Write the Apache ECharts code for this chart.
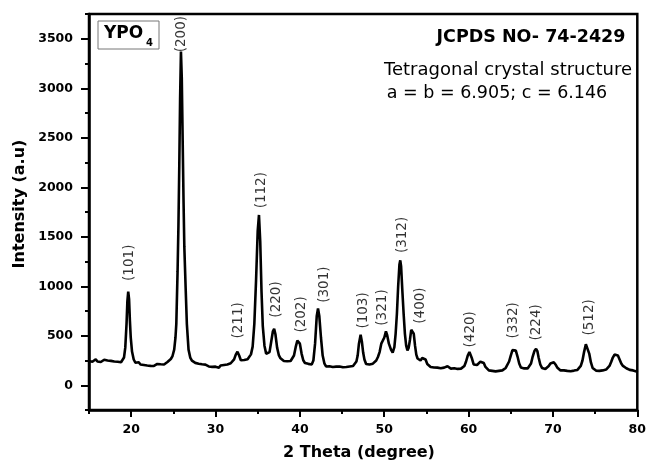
<!DOCTYPE html>
<html>
<head>
<meta charset="utf-8">
<script src="https://cdn.jsdelivr.net/npm/echarts@6/dist/echarts.min.js"></script>
<style>
  html, body { margin: 0; padding: 0; background: #fff; }
  #chart { width: 649px; height: 462px; }
</style>
</head>
<body>
<div id="chart"></div>
<script>
// XRD pattern
const twoTheta = [
  15.0, 15.2, 15.4, 15.6, 15.8, 16.0, 16.2, 16.4, 16.6, 16.8, 17.0, 17.2, 17.4, 17.6, 17.8, 18.0, 18.2, 18.4, 18.6, 18.8,
  19.0, 19.15, 19.3, 19.45, 19.55, 19.65, 19.75, 19.85, 19.95, 20.1, 20.3, 20.5, 20.7, 20.9, 21.1, 21.3, 21.5, 21.7, 21.9,
  22.1, 22.3, 22.5, 22.7, 22.9, 23.1, 23.3, 23.5, 23.7, 23.9, 24.1, 24.3, 24.5, 24.7, 24.9, 25.1, 25.25, 25.35, 25.5, 25.6,
  25.7, 25.8, 25.9, 26.0, 26.1, 26.2, 26.3, 26.45, 26.6, 26.8, 27.0, 27.2, 27.4, 27.6, 27.8, 28.0, 28.2, 28.4, 28.6, 28.8,
  29.0, 29.2, 29.4, 29.6, 29.8, 30.0, 30.2, 30.4, 30.6, 30.8, 31.0, 31.2, 31.4, 31.6, 31.8, 32.0, 32.2, 32.4, 32.6, 32.8,
  33.0, 33.2, 33.4, 33.6, 33.8, 34.0, 34.2, 34.4, 34.6, 34.8, 35.0, 35.15, 35.3, 35.45, 35.6, 35.8, 36.0, 36.2, 36.4, 36.6,
  36.8, 36.95, 37.1, 37.3, 37.5, 37.7, 37.9, 38.1, 38.3, 38.5, 38.7, 38.9, 39.1, 39.3, 39.5, 39.7, 39.85, 40.0, 40.2, 40.4,
  40.6, 40.8, 41.0, 41.2, 41.4, 41.6, 41.8, 42.0, 42.15, 42.3, 42.5, 42.7, 42.9, 43.1, 43.3, 43.5, 43.7, 43.9, 44.1, 44.3,
  44.5, 44.7, 44.9, 45.1, 45.3, 45.5, 45.7, 45.9, 46.1, 46.3, 46.5, 46.7, 46.85, 47.0, 47.2, 47.35, 47.5, 47.65, 47.85, 48.05,
  48.25, 48.45, 48.65, 48.85, 49.05, 49.25, 49.45, 49.65, 49.85, 50.0, 50.2, 50.35, 50.55, 50.8, 51.0, 51.2, 51.35, 51.5, 51.65,
  51.8, 51.9, 52.0, 52.15, 52.3, 52.45, 52.6, 52.75, 52.9, 53.05, 53.2, 53.35, 53.5, 53.65, 53.8, 53.95, 54.1, 54.3, 54.5, 54.7,
  54.9, 55.1, 55.3, 55.5, 55.7, 55.9, 56.1, 56.3, 56.5, 56.7, 56.9, 57.1, 57.3, 57.5, 57.7, 57.9, 58.1, 58.3, 58.5, 58.7,
  58.9, 59.1, 59.3, 59.5, 59.7, 59.9, 60.1, 60.25, 60.4, 60.6, 60.8, 61.0, 61.2, 61.4, 61.6, 61.8, 62.0, 62.2, 62.4, 62.6,
  62.8, 63.0, 63.2, 63.4, 63.6, 63.8, 64.0, 64.2, 64.4, 64.6, 64.8, 65.0, 65.2, 65.4, 65.6, 65.8, 66.0, 66.2, 66.4, 66.6,
  66.8, 67.0, 67.2, 67.4, 67.6, 67.8, 68.0, 68.15, 68.3, 68.5, 68.7, 68.9, 69.1, 69.3, 69.5, 69.7, 69.9, 70.1, 70.3, 70.5,
  70.7, 70.9, 71.1, 71.3, 71.5, 71.7, 71.9, 72.1, 72.3, 72.5, 72.7, 72.9, 73.1, 73.3, 73.5, 73.7, 73.9, 74.0, 74.1, 74.3,
  74.5, 74.7, 74.9, 75.1, 75.3, 75.5, 75.7, 75.9, 76.1, 76.3, 76.5, 76.7, 76.9, 77.1, 77.3, 77.5, 77.7, 77.9, 78.1, 78.3,
  78.5, 78.7, 78.9, 79.1, 79.3, 79.5, 79.7, 79.9, 80.0
]
const intensity = [
  245, 255, 238, 250, 262, 240, 252, 235, 248, 258, 242, 250, 236, 246, 230, 240, 252, 238, 245, 232,
  245, 280, 380, 620, 850, 945, 870, 650, 480, 340, 260, 228, 218, 232, 210, 220, 205, 215, 200,
  212, 196, 210, 195, 205, 215, 200, 212, 222, 210, 225, 235, 245, 265, 295, 360, 480, 620, 1150, 1600,
  2200, 2900, 3370, 3100, 2500, 1900, 1400, 1000, 620, 360, 280, 248, 232, 226, 212, 218, 205, 212, 196, 208,
  200, 190, 205, 186, 198, 188, 195, 178, 200, 186, 205, 194, 210, 200, 222, 235, 262, 310, 338, 300,
  252, 238, 255, 245, 262, 278, 312, 390, 620, 1050, 1560, 1720, 1450, 950, 600, 400, 318, 300, 335, 440,
  545, 570, 515, 380, 305, 272, 258, 245, 232, 242, 228, 245, 262, 300, 385, 450, 462, 420, 320, 252,
  225, 210, 216, 202, 210, 250, 420, 700, 775, 700, 480, 300, 222, 190, 180, 192, 175, 185, 170, 188,
  178, 190, 174, 182, 170, 185, 178, 190, 182, 195, 205, 240, 300, 420, 510, 440, 330, 260, 215, 200,
  210, 204, 218, 232, 250, 285, 335, 420, 455, 480, 545, 505, 420, 360, 330, 385, 520, 720, 1000,
  1220, 1262, 1200, 950, 720, 520, 400, 352, 380, 460, 560, 580, 520, 400, 310, 270, 255, 250, 275, 292,
  260, 215, 195, 185, 170, 180, 168, 178, 160, 172, 165, 178, 175, 192, 185, 168, 160, 172, 158, 165,
  175, 168, 180, 195, 240, 300, 335, 320, 270, 210, 195, 205, 220, 238, 245, 225, 185, 165, 150, 158,
  145, 152, 140, 150, 145, 158, 150, 162, 175, 195, 240, 300, 355, 362, 350, 290, 220, 180, 165, 170,
  160, 170, 185, 220, 290, 345, 368, 345, 280, 210, 175, 170, 165, 175, 195, 220, 235, 232, 210, 180,
  160, 150, 142, 150, 138, 145, 132, 142, 135, 148, 140, 155, 165, 195, 250, 340, 415, 428, 410, 320,
  230, 175, 158, 148, 155, 145, 158, 150, 162, 158, 172, 195, 235, 280, 310, 325, 300, 260, 220, 195,
  180, 172, 168, 155, 162, 150, 158, 140, 150
]

// Miller indices: label centre (2θ) and bottom of the label (intensity)
const hklNames = ['(101)', '(200)', '(211)', '(112)', '(220)', '(202)', '(301)', '(103)',
  '(321)', '(312)', '(400)', '(420)', '(332)', '(224)', '(512)']
const hklX = [19.8, 26.0, 32.7, 35.4, 37.2, 40.15, 42.9, 47.5, 49.85, 52.15, 54.25, 60.2, 65.3, 68.05, 74.3]
const hklY = [1054, 3363, 472, 1787, 683, 532, 833, 572, 602, 1335, 622, 382, 472, 452, 502]

const xTicks = [20, 30, 40, 50, 60, 70, 80]
const xMinorTicks = [15, 25, 35, 45, 55, 65, 75]
const yTicks = [0, 500, 1000, 1500, 2000, 2500, 3000, 3500]
const yMinorTicks = [-250, 250, 750, 1250, 1750, 2250, 2750, 3250, 3750]

const FONT = 'DejaVu Sans'
const chart = echarts.init(document.getElementById('chart'), null, { renderer: 'canvas' })

const axisLine = { show: true, onZero: false, lineStyle: { color: '#000', width: 2.5 } }
const tickLabel = {
  color: '#000',
  fontFamily: FONT,
  fontWeight: 'bold',
  fontSize: 12.5,
  formatter: (v) => String(v),
}

const option = {
  animation: false,
  backgroundColor: '#fff',
  grid: {
    left: 89,
    right: 6,
    top: 14,
    bottom: 52,
    show: true,
    borderColor: '#000',
    borderWidth: 2.5,
  },
  xAxis: [
    {
      type: 'value',
      min: 15,
      max: 80,
      axisLine: axisLine,
      axisTick: { customValues: xTicks, length: 7, lineStyle: { color: '#000', width: 2 } },
      axisLabel: Object.assign({ customValues: xTicks, margin: 13 }, tickLabel),
      splitLine: { show: false },
    },
    {
      type: 'value',
      min: 15,
      max: 80,
      position: 'bottom',
      axisLine: { show: false, onZero: false },
      axisTick: { customValues: xMinorTicks, length: 4, lineStyle: { color: '#000', width: 2 } },
      axisLabel: { show: false },
      splitLine: { show: false },
    },
  ],
  yAxis: [
    {
      type: 'value',
      min: -250,
      max: 3750,
      axisLine: axisLine,
      axisTick: { customValues: yTicks, length: 8, lineStyle: { color: '#000', width: 2 } },
      axisLabel: Object.assign({ customValues: yTicks, margin: 16 }, tickLabel),
      splitLine: { show: false },
    },
    {
      type: 'value',
      min: -250,
      max: 3750,
      position: 'left',
      axisLine: { show: false, onZero: false },
      axisTick: { customValues: yMinorTicks, length: 4, lineStyle: { color: '#000', width: 2 } },
      axisLabel: { show: false },
      splitLine: { show: false },
    },
  ],
  series: [
    {
      type: 'line',
      data: twoTheta.map((t, i) => [t, intensity[i]]),
      showSymbol: false,
      lineStyle: { color: '#000', width: 2.6 },
      z: 3,
    },
    {
      type: 'scatter',
      data: hklX.map((t, i) => [t, hklY[i]]),
      symbolSize: 1,
      itemStyle: { color: 'rgba(0,0,0,0)' },
      label: {
        show: true,
        position: 'inside',
        rotate: 90,
        align: 'left',
        verticalAlign: 'middle',
        formatter: (p) => hklNames[p.dataIndex],
        color: '#000',
        fontFamily: FONT,
        fontSize: 13.5,
      },
      z: 4,
    },
  ],
  graphic: [
    // sample name box
    {
      type: 'rect',
      shape: { x: 98, y: 21, width: 61, height: 28 },
      style: { fill: 'none', stroke: '#777', lineWidth: 1 },
    },
    {
      type: 'text',
      x: 104,
      y: 34,
      style: { text: 'YPO', font: 'bold 17px "DejaVu Sans"', fill: '#000', verticalAlign: 'middle' },
    },
    {
      type: 'text',
      x: 146,
      y: 43.5,
      style: { text: '4', font: 'bold 10px "DejaVu Sans"', fill: '#000', verticalAlign: 'middle' },
    },
    {
      type: 'text',
      x: 531,
      y: 37,
      style: { text: 'JCPDS NO- 74-2429', font: 'bold 17.5px "DejaVu Sans"', fill: '#000', align: 'center', verticalAlign: 'middle' },
    },
    {
      type: 'text',
      x: 508,
      y: 70,
      style: { text: 'Tetragonal crystal structure', font: '18px "DejaVu Sans"', fill: '#000', align: 'center', verticalAlign: 'middle' },
    },
    {
      type: 'text',
      x: 497,
      y: 93,
      style: { text: 'a = b = 6.905; c = 6.146', font: '17.5px "DejaVu Sans"', fill: '#000', align: 'center', verticalAlign: 'middle' },
    },
    // axis titles
    {
      type: 'text',
      x: 359,
      y: 453,
      style: { text: '2 Theta (degree)', font: 'bold 16px "DejaVu Sans"', fill: '#000', align: 'center', verticalAlign: 'middle' },
    },
    {
      type: 'text',
      x: 20,
      y: 204,
      rotation: Math.PI / 2,
      style: { text: 'Intensity (a.u)', font: 'bold 16px "DejaVu Sans"', fill: '#000', align: 'center', verticalAlign: 'middle' },
    },
  ],
}

chart.setOption(option)
</script>
</body>
</html>
